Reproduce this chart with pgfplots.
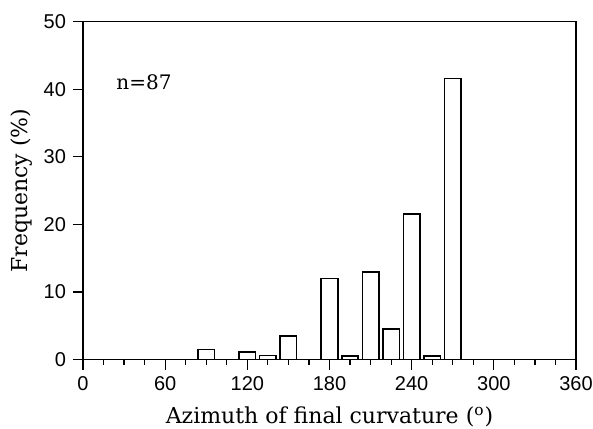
\documentclass[border=0pt]{standalone}
\usepackage{fontspec}
\setmainfont{Liberation Sans}
\newfontfamily\labelfont{DejaVu Serif}
\usepackage{pgfplots}
\pgfplotsset{compat=1.18}
\begin{document}
\begin{tikzpicture}
\begin{axis}[
  scale only axis,
  width=246.5pt, height=169pt,
  xmin=0, xmax=360, ymin=0, ymax=50,
  xtick={0,60,...,360},
  minor xtick={15,30,45,75,90,105,135,150,165,195,210,225,255,270,285,315,330,345},
  ytick={0,10,...,50},
  xtick pos=bottom, ytick pos=left,
  tick align=outside,
  major tick length=5pt, minor tick length=2.5pt,
  axis line style={line width=0.75pt},
  every tick/.style={black, line width=0.6pt},
  /pgf/number format/assume math mode=true,
  ticklabel style={font=\fontsize{10}{12}\selectfont},
  xlabel={Azimuth of final curvature (\textsuperscript{o})},
  ylabel={Frequency (\%)},
  label style={font=\fontsize{11}{13}\selectfont\labelfont},
  xlabel style={yshift=-1pt},
  ylabel style={yshift=-1pt},
  ybar, bar width=12,
]
\addplot[draw=black, fill=white, line width=0.8pt] coordinates {
  (90,1.5) (120,1.1) (135,0.6) (150,3.5) (180,12.0) (195,0.5)
  (210,13.0) (225,4.5) (240,21.5) (255,0.5) (270,41.6)
};
\node[anchor=base, font=\fontsize{10}{12}\selectfont\labelfont] at (axis cs:44.5,39.9) {n=87};
\end{axis}
\pgfresetboundingbox
\path (current axis.south west) ++(-41.5pt,-34.5pt) rectangle ([shift={(8.5pt,10.8pt)}]current axis.north east);
\end{tikzpicture}
\end{document}
